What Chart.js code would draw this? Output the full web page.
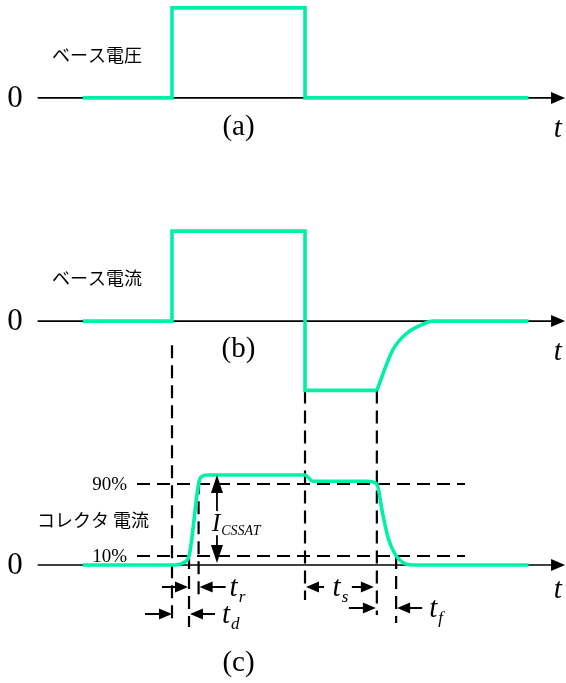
<!DOCTYPE html>
<html>
<head>
<meta charset="utf-8">
<script src="https://cdn.jsdelivr.net/npm/chart.js@4.4.1/dist/chart.umd.min.js"></script>
<style>
  html, body { margin: 0; padding: 0; background: #ffffff; }
  #wrap { width: 566px; height: 683px; position: relative; }
</style>
</head>
<body>
<div id="wrap"><canvas id="chart"></canvas></div>
<script>
// ---- switching events (arbitrary time units) ----
const eventTimes = [0, 1.28, 2.0, 10, 15.4, 16.85];   // on, 10% rise, 90% rise, off, 90% fall, 10% fall
const [tOn, t10Rise, t90Rise, tOff, t90Fall, t10Fall] = eventTimes;
const thresholds = [0.1, 0.9];                        // 10% / 90% of I_CSSAT

// ---- (a) base voltage ----
const baseVoltageT = [-6.7, tOn, tOn, tOff, tOff, 26.8];
const baseVoltageV = [0, 0, 1, 1, 0, 0];

// ---- (b) base current: drive pulse, reverse current, recovery ----
const baseCurrentT = [-6.7, tOn, tOn, tOff, tOff, t90Fall];
const baseCurrentV = [0, 0, 1, 1, -0.77, -0.77];
const baseRecoveryT = [t90Fall, 16.6, 17.65, 18.85, 19.6, 26.8];
const baseRecoveryV = [-0.77, -0.32, -0.135, -0.035, 0, 0];

// ---- (c) collector current (1 = I_CSSAT) ----
const collectorT = [-6.7, 0.25, 0.85, t10Rise, t90Rise, 2.2, 2.7, tOff, 10.6, 14.65, t90Fall, 15.8, 16.25, t10Fall, 17.45, 18.1, 26.8];
const collectorV = [0, 0, 0.025, 0.1, 0.9, 0.98, 1, 1, 0.93, 0.93, 0.9, 0.6, 0.3, 0.1, 0.02, 0, 0];

// ---- text ----
const panelNames = ['ベース電圧', 'ベース電流', 'コレクタ 電流'];
const panelTags = ['(a)', '(b)', '(c)'];
const percentLabels = ['10%', '90%'];

// ---- layout ----
const PANEL = { a: 5.19, b: 2.71, c: 0 };            // baselines on the shared vertical scale
const PANEL_KEYS = ['a', 'b', 'c'];
const X_RANGE = [-12.93, 29.62];
const Y_RANGE = [-1.311, 6.278];
const AXIS_START = -10.1, AXIS_TIP = 29.55;
const GREEN = '#00f0a8';
const SERIF = "'Liberation Serif', 'Times New Roman', serif";
const JP = "'Noto Sans CJK JP', 'Noto Sans', sans-serif";
const DASH = [13, 7];

const pts = (T, V, off) => T.map((t, i) => ({ x: t, y: off + V[i] }));

function wave(T, V, panel, extra) {
  return Object.assign({
    data: pts(T, V, PANEL[panel]),
    borderColor: GREEN, borderWidth: 3.6, pointRadius: 0,
    tension: 0, borderJoinStyle: 'miter', borderCapStyle: 'butt', order: 0
  }, extra || {});
}

function segment(p0, p1, extra) {
  return Object.assign({
    data: [p0, p1], borderColor: '#000', borderWidth: 1.6,
    pointRadius: 0, tension: 0, borderCapStyle: 'butt', order: 3
  }, extra || {});
}

const datasets = [
  wave(baseVoltageT, baseVoltageV, 'a'),
  wave(baseCurrentT, baseCurrentV, 'b'),
  wave(baseRecoveryT, baseRecoveryV, 'b', { cubicInterpolationMode: 'monotone' }),
  wave(collectorT, collectorV, 'c', { cubicInterpolationMode: 'monotone' })
];

// time axes
PANEL_KEYS.forEach(k => {
  datasets.push(segment({ x: AXIS_START, y: PANEL[k] }, { x: AXIS_TIP - 0.6, y: PANEL[k] }));
});

// dashed guides: threshold levels
thresholds.forEach(v => {
  datasets.push(segment({ x: -2.63, y: v }, { x: 22.03, y: v }, { borderDash: DASH, borderWidth: 2.2, order: 2 }));
});

// dashed guides: event times [time, top, bottom]
const low = PANEL.b + baseCurrentV[4];
const guides = [
  [tOn, PANEL.b - 0.267, -0.667],
  [t10Rise, 0.1, -0.689],
  [t90Rise, 0.93, -0.333],
  [tOff, low, -0.389],
  [t90Fall, low, -0.556],
  [t10Fall, 0.1, -0.644]
];
guides.forEach(([t, top, bot]) => {
  datasets.push(segment({ x: t, y: top }, { x: t, y: bot }, { borderDash: DASH, borderWidth: 2.2, order: 2 }));
});

// ---- drawing helpers ----
function arrowHead(ctx, tipX, tipY, dx, dy, len, half) {
  const nx = -dy, ny = dx;
  ctx.beginPath();
  ctx.moveTo(tipX, tipY);
  ctx.lineTo(tipX - dx * len + nx * half, tipY - dy * len + ny * half);
  ctx.lineTo(tipX - dx * len - nx * half, tipY - dy * len - ny * half);
  ctx.closePath();
  ctx.fill();
}

// horizontal dimension arrow: tip at px, pointing in dir (+1 right, -1 left)
function hArrow(ctx, tipX, y, dir, length) {
  ctx.beginPath();
  ctx.moveTo(tipX - dir * length, y);
  ctx.lineTo(tipX - dir * 8, y);
  ctx.stroke();
  arrowHead(ctx, tipX, y, dir, 0, 13, 5.5);
}

function subLabel(ctx, main, sub, x, y, align, mainSize, subSize, subDrop) {
  ctx.textBaseline = 'alphabetic';
  ctx.textAlign = 'left';
  ctx.font = `italic ${mainSize}px ${SERIF}`;
  const w1 = ctx.measureText(main).width;
  ctx.font = `italic ${subSize}px ${SERIF}`;
  const w2 = ctx.measureText(sub).width;
  let x0 = x;
  if (align === 'center') x0 = x - (w1 + w2) / 2;
  ctx.font = `italic ${mainSize}px ${SERIF}`;
  ctx.fillText(main, x0, y);
  ctx.font = `italic ${subSize}px ${SERIF}`;
  ctx.fillText(sub, x0 + w1 + 1, y + subDrop);
}

const overlay = {
  id: 'overlay',
  afterDatasetsDraw(chart) {
    const { ctx, scales: { x, y } } = chart;
    const X = t => x.getPixelForValue(t);
    const Y = v => y.getPixelForValue(v);
    ctx.save();
    ctx.fillStyle = '#000';
    ctx.strokeStyle = '#000';

    // axis arrowheads, "0" and "t" labels, panel captions
    const tDrop = { a: 31, b: 31, c: 25 };
    const nameRise = { a: 43, b: 43, c: 45 };
    PANEL_KEYS.forEach((k, i) => {
      const by = Y(PANEL[k]);
      arrowHead(ctx, X(AXIS_TIP), by, 1, 0, 14, 6);

      ctx.font = `31px ${SERIF}`;
      ctx.textAlign = 'center';
      ctx.textBaseline = 'middle';
      ctx.fillText('0', 15, by + 1);

      ctx.font = `italic 29px ${SERIF}`;
      ctx.fillText('t', X(29.0), by + tDrop[k]);

      ctx.font = `18px ${JP}`;
      ctx.textAlign = 'left';
      ctx.fillText(panelNames[i], k === 'c' ? 37 : 52, by - nameRise[k]);
    });

    // panel tags
    ctx.font = `29px ${SERIF}`;
    ctx.textAlign = 'center';
    ctx.textBaseline = 'middle';
    ctx.fillText(panelTags[0], X(5), Y(PANEL.a) + 29);
    ctx.fillText(panelTags[1], X(5), Y(PANEL.b) + 28);
    ctx.fillText(panelTags[2], X(5), Y(PANEL.c) + 98);

    // threshold labels
    ctx.font = `19px ${SERIF}`;
    ctx.textAlign = 'right';
    thresholds.forEach((v, i) => ctx.fillText(percentLabels[i], 127, Y(v) + 1));

    // I_CSSAT span
    ctx.lineWidth = 1.8;
    const ix = X(t90Rise + 1.38);
    ctx.beginPath();
    ctx.moveTo(ix, Y(1) + 10); ctx.lineTo(ix, Y(0.6));
    ctx.moveTo(ix, Y(0.33)); ctx.lineTo(ix, Y(0) - 10);
    ctx.stroke();
    arrowHead(ctx, ix, Y(1), 0, -1, 18, 6);
    arrowHead(ctx, ix, Y(0) - 2, 0, 1, 18, 6);
    subLabel(ctx, 'I', 'CSSAT', ix - 5, Y(0.47) + 8, 'left', 25, 14, 4);

    // timing dimensions
    ctx.lineWidth = 2;
    const base = Y(0);
    // t_r
    hArrow(ctx, X(t10Rise) - 1, base + 22, 1, 26);
    hArrow(ctx, X(t90Rise) + 1, base + 22, -1, 26);
    subLabel(ctx, 't', 'r', X(t90Rise) + 31, base + 31, 'left', 29, 17, 6);
    // t_d
    hArrow(ctx, X(tOn), base + 49, 1, 27);
    hArrow(ctx, X(t10Rise) + 1, base + 49, -1, 25);
    subLabel(ctx, 't', 'd', X(t10Rise) + 33, base + 58, 'left', 29, 17, 6);
    // t_s
    hArrow(ctx, X(tOff) + 1, base + 22, -1, 18);
    hArrow(ctx, X(t90Fall) - 3, base + 22, 1, 22);
    subLabel(ctx, 't', 's', (X(tOff) + X(t90Fall)) / 2 - 1, base + 31, 'center', 29, 17, 6);
    // t_f
    hArrow(ctx, X(t90Fall) - 1, base + 43, 1, 27);
    hArrow(ctx, X(t10Fall) + 1, base + 43, -1, 25);
    subLabel(ctx, 't', 'f', X(t10Fall) + 33, base + 52, 'left', 29, 17, 6);

    ctx.restore();
  }
};

new Chart(document.getElementById('chart'), {
  type: 'line',
  data: { datasets },
  options: {
    responsive: true,
    maintainAspectRatio: false,
    animation: false,
    events: [],
    layout: { padding: 0 },
    plugins: { legend: { display: false }, tooltip: { enabled: false } },
    scales: {
      x: { type: 'linear', min: X_RANGE[0], max: X_RANGE[1], display: false },
      y: { type: 'linear', min: Y_RANGE[0], max: Y_RANGE[1], display: false }
    }
  },
  plugins: [overlay]
});
</script>
</body>
</html>
